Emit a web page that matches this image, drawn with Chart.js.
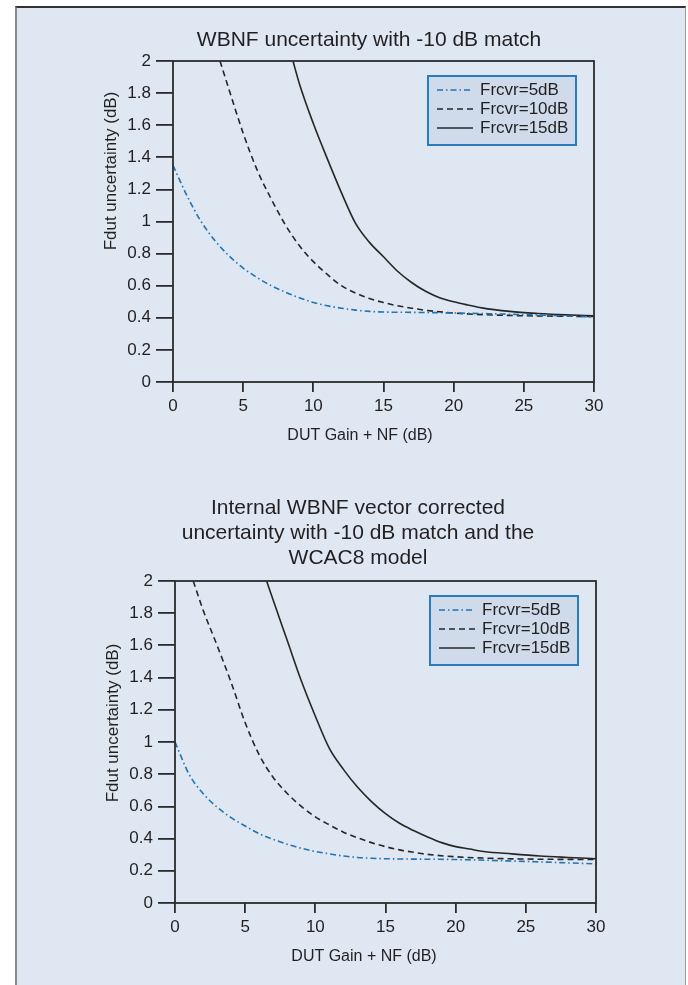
<!DOCTYPE html>
<html>
<head>
<meta charset="utf-8">
<script src="https://cdn.jsdelivr.net/npm/chart.js@4.4.1/dist/chart.umd.min.js"></script>
<style>
  body { margin: 0; background: #fff; width: 688px; height: 985px; overflow: hidden; position: relative; }
  #panel { position: absolute; left: 15px; top: 6px; width: 671px; height: 995px; background: #dfe7f2;
           border-top: 2px solid #333; border-left: 2px solid #8a8a8a; border-right: 1px solid #9a9a9a; box-sizing: border-box; }
  canvas { position: absolute; left: 0; }
  #chartTop { top: 0; }
  #chartBottom { top: 470px; }
</style>
</head>
<body>
<div id="panel"></div>
<canvas id="chartTop" width="688" height="470"></canvas>
<canvas id="chartBottom" width="688" height="515"></canvas>
<script>
// tick labels
const xTickLabels = ['0', '5', '10', '15', '20', '25', '30'];
const yTickLabels = ['0', '0.2', '0.4', '0.6', '0.8', '1', '1.2', '1.4', '1.6', '1.8', '2'];
const seriesNames = ['Frcvr=5dB', 'Frcvr=10dB', 'Frcvr=15dB'];

// grafik atas: WBNF uncertainty with -10 dB match
const top5x  = [0, 1, 2, 3, 4, 5, 6, 7, 8, 9, 10, 11, 12, 13, 14, 15, 17, 20, 25, 30];
const top5y  = [1.35, 1.16, 1.00, 0.88, 0.785, 0.71, 0.65, 0.60, 0.56, 0.525, 0.495, 0.475, 0.46, 0.448, 0.44, 0.436, 0.434, 0.43, 0.42, 0.405];
const top10x = [3.35, 4, 5, 6, 7, 8, 9, 10, 11, 12, 13, 14, 15, 16, 17, 18, 20, 22, 25, 30];
const top10y = [2.0, 1.82, 1.55, 1.32, 1.14, 0.98, 0.85, 0.75, 0.67, 0.60, 0.555, 0.52, 0.495, 0.475, 0.46, 0.447, 0.43, 0.42, 0.413, 0.408];
const top15x = [8.55, 9, 10, 11, 12, 13, 14, 15, 16, 17, 18, 19, 20, 21, 22, 24, 26, 28, 30];
const top15y = [2.0, 1.86, 1.61, 1.39, 1.18, 0.99, 0.87, 0.78, 0.69, 0.62, 0.565, 0.525, 0.50, 0.48, 0.462, 0.44, 0.427, 0.418, 0.412];

// grafik bawah: vector corrected + WCAC8 model
const bot5x  = [0, 1, 2, 3, 4, 5, 6, 7, 8, 9, 10, 11, 12, 13, 14, 15, 20, 25, 30];
const bot5y  = [1.0, 0.80, 0.68, 0.595, 0.53, 0.478, 0.43, 0.395, 0.365, 0.34, 0.32, 0.305, 0.292, 0.283, 0.278, 0.275, 0.27, 0.258, 0.243];
const bot10x = [1.3, 2, 3, 4, 5, 6, 7, 8, 9, 10, 11, 12, 13, 14, 15, 16, 17, 18, 20, 22, 25, 30];
const bot10y = [2.0, 1.82, 1.6, 1.37, 1.12, 0.92, 0.78, 0.68, 0.60, 0.535, 0.485, 0.44, 0.405, 0.375, 0.35, 0.33, 0.315, 0.302, 0.287, 0.279, 0.273, 0.27];
const bot15x = [6.53, 7, 8, 9, 10, 11, 12, 13, 14, 15, 16, 17, 18, 19, 20, 21, 22, 24, 26, 28, 30];
const bot15y = [2.0, 1.88, 1.63, 1.38, 1.16, 0.96, 0.83, 0.72, 0.63, 0.555, 0.495, 0.45, 0.41, 0.375, 0.35, 0.335, 0.32, 0.305, 0.292, 0.283, 0.275];

const FONT = "'Liberation Sans', Arial, Helvetica, sans-serif";
const INK = '#231f20';
Chart.defaults.font.family = FONT;
Chart.defaults.color = INK;

const toPoints = (xs, ys) => xs.map((x, i) => ({ x: x, y: ys[i] }));

// style garis tiap seri
const lineStyles = [
    { borderColor: '#1f74b5', borderDash: [6, 3, 1.5, 3] },
    { borderColor: '#262626', borderDash: [6, 4] },
    { borderColor: '#262626', borderDash: [] }
];

// plugin: bingkai, judul, label sumbu, legenda
const decor = {
    id: 'decor',
    afterDraw(chart, args, o) {
        const ctx = chart.ctx;
        const a = chart.chartArea;
        ctx.save();
        ctx.strokeStyle = '#2b2b2b';
        ctx.lineWidth = 1.8;
        ctx.strokeRect(a.left, a.top, a.right - a.left, a.bottom - a.top);

        ctx.fillStyle = INK;
        ctx.textAlign = 'center';
        ctx.textBaseline = 'middle';
        ctx.font = '21px ' + FONT;
        o.title.forEach((t, i) => ctx.fillText(t, o.titleX, o.titleY + i * 25));

        ctx.font = '16px ' + FONT;
        ctx.fillText(o.xTitle, o.xTitleX, o.xTitleY);

        ctx.save();
        ctx.translate(o.yTitleX, o.yTitleY);
        ctx.rotate(-Math.PI / 2);
        ctx.font = '17px ' + FONT;
        ctx.fillText(o.yTitle, 0, 0);
        ctx.restore();

        // legenda di dalam area plot
        const w = 148, h = 69;
        const lx = a.right - 18 - w, ly = a.top + 15;
        ctx.fillStyle = '#cfdbeb';
        ctx.fillRect(lx, ly, w, h);
        ctx.strokeStyle = '#2a7bbd';
        ctx.lineWidth = 2;
        ctx.strokeRect(lx, ly, w, h);
        chart.data.datasets.forEach((ds, i) => {
            const y = ly + 14 + i * 19;
            ctx.strokeStyle = ds.borderColor;
            ctx.lineWidth = ds.borderWidth;
            ctx.setLineDash(ds.borderDash || []);
            ctx.beginPath();
            ctx.moveTo(lx + 9, y);
            ctx.lineTo(lx + 45, y);
            ctx.stroke();
            ctx.setLineDash([]);
            ctx.fillStyle = INK;
            ctx.textAlign = 'left';
            ctx.font = '17px ' + FONT;
            ctx.fillText(ds.label, lx + 52, y);
        });
        ctx.restore();
    }
};

function makeChart(id, series, pad, yWidth, decorOpts) {
    return new Chart(document.getElementById(id), {
        type: 'line',
        data: {
            datasets: series.map((pts, i) => ({
                label: seriesNames[i],
                data: pts,
                borderColor: lineStyles[i].borderColor,
                borderDash: lineStyles[i].borderDash,
                borderWidth: 1.6,
                pointRadius: 0,
                fill: false,
                cubicInterpolationMode: 'monotone'
            }))
        },
        options: {
            responsive: false,
            animation: false,
            layout: { padding: pad },
            plugins: {
                legend: { display: false },
                tooltip: { enabled: false },
                decor: decorOpts
            },
            scales: {
                x: {
                    type: 'linear',
                    min: 0,
                    max: 30,
                    border: { display: false },
                    grid: { drawOnChartArea: false, drawTicks: true, tickLength: 10, color: '#2b2b2b', lineWidth: 1.8 },
                    afterBuildTicks: s => { s.ticks = xTickLabels.map(v => ({ value: Number(v) })); },
                    afterFit: s => { s.height = 40; },
                    ticks: { padding: 4, font: { size: 17 }, color: INK, callback: (v, i) => xTickLabels[i] }
                },
                y: {
                    type: 'linear',
                    min: 0,
                    max: 2,
                    border: { display: false },
                    grid: { drawOnChartArea: false, drawTicks: true, tickLength: 17, color: '#2b2b2b', lineWidth: 1.8 },
                    afterBuildTicks: s => { s.ticks = yTickLabels.map(v => ({ value: Number(v) })); },
                    afterFit: s => { s.width = yWidth; },
                    ticks: { padding: 5, font: { size: 17 }, color: INK, callback: (v, i) => yTickLabels[i] }
                }
            }
        },
        plugins: [decor]
    });
}

makeChart('chartTop',
    [toPoints(top5x, top5y), toPoints(top10x, top10y), toPoints(top15x, top15y)],
    { top: 61, right: 94, bottom: 48, left: 0 }, 173,
    { title: ['WBNF uncertainty with -10 dB match'], titleX: 369, titleY: 40,
      xTitle: 'DUT Gain + NF (dB)', xTitleX: 360, xTitleY: 436,
      yTitle: 'Fdut uncertainty (dB)', yTitleX: 111, yTitleY: 171 });

makeChart('chartBottom',
    [toPoints(bot5x, bot5y), toPoints(bot10x, bot10y), toPoints(bot15x, bot15y)],
    { top: 111, right: 92, bottom: 42, left: 0 }, 175,
    { title: ['Internal WBNF vector corrected', 'uncertainty with -10 dB match and the', 'WCAC8 model'],
      titleX: 358, titleY: 38,
      xTitle: 'DUT Gain + NF (dB)', xTitleX: 364, xTitleY: 487,
      yTitle: 'Fdut uncertainty (dB)', yTitleX: 113, yTitleY: 253 });
</script>
</body>
</html>
